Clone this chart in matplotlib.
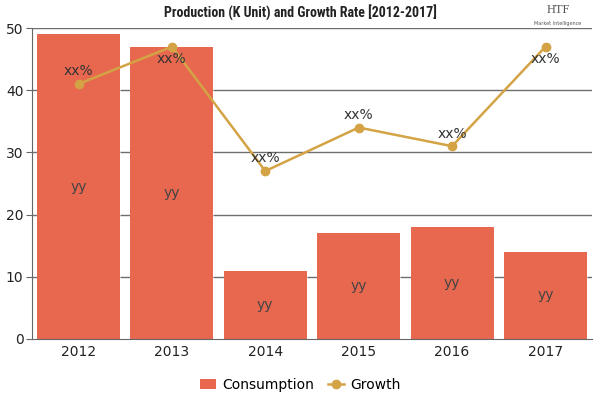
import matplotlib.pyplot as plt
import numpy as np
from matplotlib import font_manager

years = ['2012', '2013', '2014', '2015', '2016', '2017']
consumption = [49, 47, 11, 17, 18, 14]
growth = [41, 47, 27, 34, 31, 47]
y_ticks = [0, 10, 20, 30, 40, 50]
bar_labels = ['yy'] * 6
growth_labels = ['xx%'] * 6

bar_color = '#E8684F'
line_color = '#D3A345'
bar_width = 0.89

# condensed font for the title if one is there
title_family = 'DejaVu Sans'
for fam in ['Liberation Sans Narrow', 'Roboto Condensed', 'DejaVu Sans Condensed']:
    try:
        font_manager.findfont(fam, fallback_to_default=False)
        title_family = fam
        break
    except Exception:
        pass

fig = plt.figure(figsize=(6, 4), dpi=100)
ax = fig.add_axes([0.053, 0.1525, 0.934, 0.7775])
ax.set_xlim(-0.5, 5.5)
ax.set_ylim(0, 50)

x = np.arange(len(years))

# gridlines: drawn only where no bar covers them
for t in y_ticks[1:]:
    covered = [(xi - bar_width / 2, xi + bar_width / 2) for xi, v in zip(x, consumption) if v > t]
    start = -0.5
    for a, b in covered:
        if a > start:
            ax.hlines(t, start, a, color='#6e6e6e', lw=1, zorder=1)
        start = b
    if start < 5.5:
        ax.hlines(t, start, 5.5, color='#6e6e6e', lw=1, zorder=1)

ax.bar(x, consumption, width=bar_width, color=bar_color, zorder=2, label='Consumption')
ax.plot(x, growth, '-o', color=line_color, lw=1.8, ms=6, zorder=3, label='Growth')

for xi, v, lab in zip(x, consumption, bar_labels):
    ax.text(xi, v / 2, lab, ha='center', va='center', fontsize=10, color='#444444', zorder=4)
for xi, v, lab in zip(x, growth, growth_labels):
    if v > 45:
        ax.text(xi, v - 0.8, lab, ha='center', va='top', fontsize=10, color='#333333', zorder=4)
    else:
        ax.text(xi, v + 0.9, lab, ha='center', va='bottom', fontsize=10, color='#333333', zorder=4)

ax.set_yticks(y_ticks)
ax.set_xticks(x)
ax.set_xticklabels(years)
ax.grid(False)
for s in ['top', 'right']:
    ax.spines[s].set_visible(False)
for s in ['left', 'bottom']:
    ax.spines[s].set_color('#666666')
ax.tick_params(axis='x', length=0, labelsize=10, colors='#222222', pad=4)
ax.tick_params(axis='y', length=4, labelsize=10, labelcolor='#222222', color='#666666', pad=2)

fig.text(0.5, 0.968, 'Production (K Unit) and Growth Rate [2012-2017]', ha='center', va='center',
         fontsize=10, fontweight='bold', fontstretch='condensed', family=title_family, color='#222222')
fig.text(0.93, 0.975, 'HTF', ha='center', va='center', fontsize=9, color='#555555', family='Liberation Serif')
fig.text(0.93, 0.94, 'Market Intelligence', ha='center', va='center', fontsize=3.5, color='#555555')

handles, labels = ax.get_legend_handles_labels()
order = [labels.index('Consumption'), labels.index('Growth')]
fig.legend([handles[i] for i in order], [labels[i] for i in order], loc='center',
           bbox_to_anchor=(0.5, 0.037), ncol=2, frameon=False,
           fontsize=10, handlelength=1.2, columnspacing=1.0, handletextpad=0.4)

fig.savefig('out.png', dpi=100)
